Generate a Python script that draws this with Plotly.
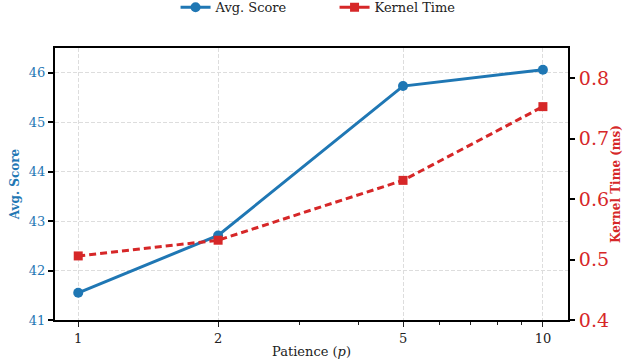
import plotly.graph_objects as go

patience = [1, 2, 5, 10]
avg_score = [41.55, 42.71, 45.73, 46.06]
kernel_time = [0.506, 0.532, 0.631, 0.753]
x_ticks = [1, 2, 5, 10]
left_ticks = [41, 42, 43, 44, 45, 46]
right_ticks = [0.4, 0.5, 0.6, 0.7, 0.8]

BLUE = "#1f77b4"
RED = "#d62728"
FONT = "DejaVu Serif"

fig = go.Figure()
fig.add_trace(go.Scatter(x=patience, y=avg_score, name="Avg. Score", mode="lines+markers", showlegend=False,
                         line=dict(color=BLUE, width=3), marker=dict(symbol="circle", size=10, color=BLUE)))
fig.add_trace(go.Scatter(x=patience, y=kernel_time, name="Kernel Time", mode="lines+markers", yaxis="y2",
                         showlegend=False,
                         line=dict(color=RED, width=3, dash="7px,4px"), marker=dict(symbol="square", size=9, color=RED)))
# legend entries (solid line samples as in reference)
fig.add_trace(go.Scatter(x=[None], y=[None], name="Avg. Score", mode="lines+markers",
                         line=dict(color=BLUE, width=3), marker=dict(symbol="circle", size=10, color=BLUE)))
fig.add_trace(go.Scatter(x=[None], y=[None], name="Kernel Time", mode="lines+markers", yaxis="y2",
                         line=dict(color=RED, width=3), marker=dict(symbol="square", size=9, color=RED)))

grid = dict(showgrid=True, gridcolor="#dddddd", griddash="4px,2px", gridwidth=1)
fig.update_layout(
    width=626, height=364,
    margin=dict(l=55, r=58, t=48, b=44, autoexpand=False),
    paper_bgcolor="white", plot_bgcolor="white",
    font=dict(family=FONT, size=13, color="#222"),
    showlegend=True,
    legend=dict(orientation="h", x=0.235, xanchor="left", y=1.205, yanchor="top",
                entrywidth=114, entrywidthmode="pixels",
                font=dict(size=13, family=FONT)),
    xaxis=dict(type="log", range=[-0.05, 1.054], tickvals=x_ticks, ticktext=[str(v) for v in x_ticks],
               automargin=False,
               ticks="outside", ticklen=5, tickwidth=1.2, tickcolor="#222",
               minor=dict(ticks="outside", tickvals=[3, 4, 6, 7, 8, 9], ticklen=3, tickcolor="#222", showgrid=False),
               showline=True, linecolor="black", linewidth=2, mirror=True,
               title=dict(text="Patience (<i>p</i>)", font=dict(size=13), standoff=2),
               tickfont=dict(size=13), zeroline=False, **grid),
    yaxis=dict(range=[41, 46.5], tickvals=left_ticks, ticks="outside", ticklen=5, tickwidth=1.5, tickcolor="black",
               automargin=False,
               showline=True, linecolor="black", linewidth=2,
               tickfont=dict(size=13, color=BLUE),
               title=dict(text="<b>Avg. Score</b>", font=dict(size=12, color=BLUE), standoff=7),
               zeroline=False, **grid),
    yaxis2=dict(range=[0.4, 0.85], tickvals=right_ticks, tickformat=".1f", overlaying="y", side="right",
                automargin=False,
                ticks="outside", ticklen=5, tickwidth=1.5, tickcolor="black",
                showline=True, linecolor="black", linewidth=2, showgrid=False, zeroline=False,
                tickfont=dict(size=19, color=RED),
                title=dict(text="<b>Kernel Time (ms)</b>", font=dict(size=12, color=RED), standoff=4)),
)
fig.write_html("out.html")
